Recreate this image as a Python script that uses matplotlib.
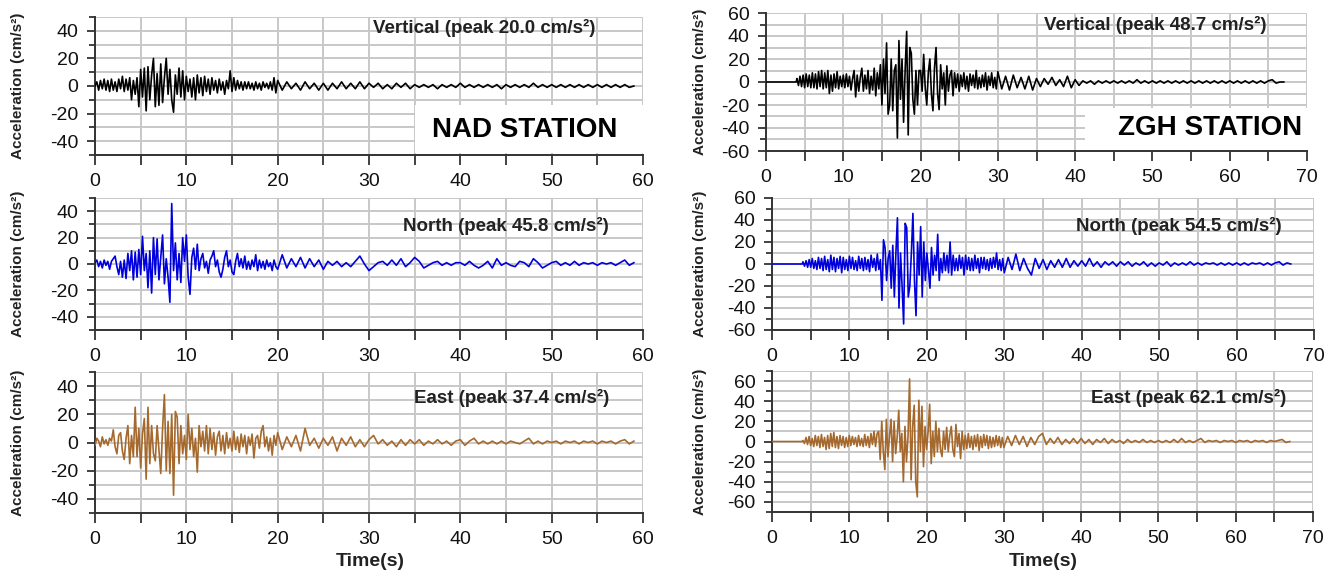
import numpy as np
import matplotlib
matplotlib.use("Agg")
import matplotlib.pyplot as plt
from matplotlib.ticker import MultipleLocator
from matplotlib.patches import Rectangle

plt.rcParams['font.family'] = ['Liberation Sans', 'DejaVu Sans']
plt.rcParams['axes.unicode_minus'] = False

# Sampling steps of the digitised records (s)
BURST_DT = 0.2   # strong-motion part
CODA_DT = 0.5    # coda

# ---------------- NAD station (records start at 0 s) ----------------
nad_v_burst = [0, 3, -3, 4, -2, 5, -3, 4, -4, 5, -3, 3, -4, 5, -2, 7, -4, 5, -3, 6,
               -10, 4, -6, 6, -15, 12, -8, 13, -18, 14, -10, 8, 20, -15, 9, -14, 16, -12, 6, 20,
               -6, 12, -10, -19, 8, -6, 13, -8, 11, -10, 7, -4, 5, -8, 6, -10, 8, -5, 6, -7,
               7, -4, 5, -6, 6, -3, 4, -5, 5, -3, 3, -6, 4, -2, 11, -4, 6, -3, 4, -2,
               3, -3, 3, -2, 3, -2, 2, -3, 3, -2, 2, -3, 3, -1, 2, -2, 3, -3, 6, -5]
nad_v_coda = [4, -3, 3, -2, 2, -3, 3, -2, 2, -3,
              2, -3, 2, -2, 3, -2, 2, -2, 3, -2,
              2, -1, 2, -2, 1, -2, 2, -1, 2, -2,
              1, -1, 1, -1, 1, -2, 1, -1, 1, -1,
              2, -1, 1, -1, 1, -1, 1, -1, 1, -2,
              1, -1, 1, -1, 1, -1, 2, -1, 1, -1,
              1, -1, 1, -1, 1, -1, 1, -1, 1, -1,
              1, -1, 1, -1, 1, -1, 1, -1, 0]

nad_n_burst = [1, 3, -2, 2, -3, 3, -1, 2, -4, 2,
               4, 6, -2, -8, 2, -10, 3, -11, 8, -5,
               10, -12, 9, -10, 11, -8, 21, -5, 8, -18,
               10, -22, 20, -8, 19, -12, 5, 22, -15, 4,
               -10, -29, 45.8, -5, 16, -12, 8, -14, 20, 2,
               22, -10, -23, 5, 12, -4, 15, -5, 4, 8,
               -3, 2, -7, 3, 6, 10, -2, 3, -6, -10,
               -4, 5, 10, -2, 3, -6, -8, 2, 8, -2,
               4, -3, 6, -4, 2, -4, 3, -2, 7, -5,
               3, -3, 2, -4, 3, -2, 1, -5, 3, -2]
nad_n_coda = [-4, 7, -3, 4, -2, 5, -3, 4, -2, 3,
              -4, 2, -1, 2, -2, 1, -2, 2, 6, 0,
              -5, -2, 1, 2, -1, 3, -1, 4, -2, 1,
              5, 2, -3, -1, 1, 2, -1, 1, -1, 1,
              1, -1, 2, -1, -3, -1, 2, -3, 4, -1,
              1, -1, -2, 2, 1, -2, 4, 1, -3, -1,
              1, 2, -1, 1, -1, 2, -1, 1, 0, 1,
              -1, 1, 0, 1, -1, 1, 3, -1, 1]

nad_e_burst = [-2, 3, 1, -3, 4, -1, 2, -2, 3, 1,
               9, -3, -8, 5, 7, -6, -12, 3, 12, -15,
               5, -10, 25, -10, 10, -18, 6, 17, -26, 25,
               -15, 12, -8, -13, 12, -5, -22, 10, 34, -20,
               15, -22, 20, -37.4, 22, 18, -15, 12, -8, 5,
               -12, 20, -5, 10, -10, 3, -21, 12, -3, 8,
               -6, 12, -8, 10, -5, 7, -9, 4, 8, -6,
               5, -8, 7, -4, 3, -6, 8, -5, 4, -7,
               6, -3, 5, -8, 4, -2, 6, -11, 3, 5,
               -4, 8, 12, -3, 4, -6, 3, -9, 5, -2]
nad_e_coda = [7, -5, 4, -3, 5, -6, 10, -2, 3, -4,
              3, -2, 4, -6, 3, -2, 4, -3, 2, -3,
              2, 5, -1, 2, -2, 1, -3, 2, -2, 2,
              -1, 2, -2, 1, -1, 2, -1, 1, -2, 1,
              2, -2, 1, 3, -1, 1, -1, 1, -1, 1,
              -1, 1, 0, -1, 1, 3, -1, 1, -1, 1,
              0, 1, -1, 1, 0, 1, -1, 1, 0, 1,
              -1, 1, 0, 1, -1, 1, 2, -1, 1]

# ---------------- ZGH station (quiet until the P arrival) ----------------
zgh_quiet_end = 3.9
zgh_burst_start = 4.0

zgh_v_burst = [3, -3, 5, -4, 6, -5, 7, -4, 6, -5,
               8, -5, 7, -6, 9, -4, 10, -6, 8, -5,
               10, -10, 6, -8, 7, -5, 9, -6, 5, -4,
               6, -5, 7, -4, 5, -7, 3, 10, -13, 6,
               -8, 4, 12, -8, 6, -6, 10, -10, 5, -7,
               12, -12, 8, -6, 15, -20, 20, -10, 34, -28,
               -20, 20, -25, 10, 15, -48.7, 36, -15, 20, -35,
               10, 44, -46, 30, 25, -15, -28, 10, -20, 10,
               10, -8, 24, -5, -20, 8, 20, -10, -25, 12,
               30, -10, -24, 15, -6, 8, -20, 14, -8, 6,
               10, -12, 8, -5, 7, -8, 6, -4, 8, -6,
               5, -8, 7, -3, 6, -5, 10, -6, 4, -5,
               6, -4, 8, -7, 5, -3, 8, -5, 4, -6]
zgh_v_coda = [9, -6, 5, -7, 6, -5, 4, -6, 5, -7,
              3, -4, 3, -2, 4, -3, 2, -4, 5, -5,
              2, -3, 1, -1, 1, -2, 1, -1, 1, -1,
              1, -1, 1, -1, 1, -1, 2, -1, 1, -1,
              1, -1, 1, -1, 1, -1, 1, -1, 1, -1,
              1, -1, 1, -1, 1, -1, 1, -1, 1, -1,
              1, -1, 1, -1, 1, -1, 1, -1, 1, -1,
              1, 2, -1, 0, 0]

zgh_n_burst = [2, -2, 3, -3, 4, -3, 5, -4, 3, -5,
               6, -4, 5, -6, 7, -5, 4, -7, 8, -5,
               6, -7, 5, -4, 7, -8, 6, -5, 4, -6,
               7, -4, 6, -5, 3, -6, 7, -4, 5, -6,
               6, -5, 4, -7, 8, -3, 5, -6, 9, -5,
               4, -33, 22, 15, -15, 5, 12, -22, 17, -30,
               10, 42, -40, 10, -20, -54.5, 37, 33, -30, -20,
               10, 46, -15, -47, 20, -10, 34, -30, 20, -15,
               10, -5, -22, 15, -10, 8, -6, 27, -15, 5,
               -8, 10, -6, 8, -8, 20, -10, 8, -6, 5,
               -6, 8, -4, 6, -10, 8, -5, 6, -6, 5,
               -6, 8, -4, 5, -8, 6, -4, 6, -5, 4,
               -6, 5, -4, 6, -3, 10, -5, 4, -6, 5]
zgh_n_coda = [-8, 6, -5, 9, -6, 5, -4, -10, 5, -4,
              4, -5, 3, -3, 4, -3, 5, -3, 3, -2,
              3, -2, 5, -2, 2, -3, 2, -1, 2, -2,
              2, -1, 2, -2, 1, -1, 2, -2, 1, -2,
              1, -1, 2, -2, 1, -1, 1, -1, 2, -1,
              1, -1, 1, 0, 1, -1, 1, -1, 1, -1,
              1, -1, 1, -1, 1, 0, 1, -1, 1, -1,
              1, 2, -1, 1, 0]

zgh_e_burst = [1, -2, 4, -3, 5, -4, 3, -5, 6, -4,
               5, -6, 7, -5, 4, -8, 6, -7, 8, -5,
               9, -6, 5, -7, 6, -4, 5, -6, 4, -5,
               6, -4, 5, -3, 4, -5, 6, -4, 3, -5,
               7, -4, 5, -6, 8, -3, 10, -5, 8, 10,
               -18, 20, -10, -28, 22, -15, 5, 22, -20, 20,
               -12, 5, 31, -10, 8, -40, 15, -20, 5, 62.1,
               -38, 15, 36, -40, -55, 41, -10, 35, -25, 15,
               -8, 10, 37, -22, 10, -15, 20, -10, 13, -8,
               -15, 10, -8, 14, -10, 6, 15, -8, -15, 17,
               -5, 8, -17, 10, -8, 6, -7, 8, -6, 5,
               -8, 6, -5, 7, -9, 5, -6, 7, -4, 6,
               -7, 5, -6, 4, -5, 6, -4, 5, -6, 4]
zgh_e_coda = [-6, 5, -4, 6, -3, 5, -5, 4, -3, 5,
              8, -3, 3, -2, 4, -3, 2, -2, 3, -2,
              3, -2, 2, -3, 2, -1, 3, -2, 2, -1,
              1, -2, 2, -1, 1, -1, 2, -1, 1, -1,
              1, -1, 1, -1, 2, -1, 3, -1, 1, -1,
              1, 3, -1, 1, 0, 1, -1, 1, 0, 1,
              -1, 1, 0, 1, -1, 1, 0, 1, -1, 1,
              0, 1, 2, -1, 0]

# Panel captions
component_labels = ["Vertical (peak 20.0 cm/s\u00b2)", "North (peak 45.8 cm/s\u00b2)",
                    "East (peak 37.4 cm/s\u00b2)", "Vertical (peak 48.7 cm/s\u00b2)",
                    "North (peak 54.5 cm/s\u00b2)", "East (peak 62.1 cm/s\u00b2)"]
station_names = ["NAD STATION", "ZGH STATION"]
y_label = "Acceleration (cm/s\u00b2)"
x_label = "Time(s)"

COLORS = {"V": "black", "N": "#0000dd", "E": "#a5692e"}


def build_trace(burst, coda, start=0.0, quiet_end=None):
    tb = start + BURST_DT * np.arange(len(burst))
    tc = start + BURST_DT * len(burst) + CODA_DT * np.arange(len(coda))
    t = np.concatenate([tb, tc])
    a = np.concatenate([np.asarray(burst, float), np.asarray(coda, float)])
    if quiet_end is not None:
        t = np.concatenate([[0.0, quiet_end], t])
        a = np.concatenate([[0.0, 0.0], a])
    return t, a


W, H = 1333, 570
fig = plt.figure(figsize=(W / 100, H / 100), dpi=100)


def rect(x0, x1, y0, y1):
    return [x0 / W, 1 - y1 / H, (x1 - x0) / W, (y1 - y0) / H]


panels = [
    # axes rectangle (px), trace, colour, ylim, xlim, caption, caption pos
    dict(r=rect(95, 643, 17, 155), tr=build_trace(nad_v_burst, nad_v_coda), c=COLORS["V"],
         ylim=(-50, 50), xlim=(0, 60), lab=component_labels[0], lp=(0.71, 0.92)),
    dict(r=rect(95, 643, 198, 330), tr=build_trace(nad_n_burst, nad_n_coda), c=COLORS["N"],
         ylim=(-50, 50), xlim=(0, 60), lab=component_labels[1], lp=(0.75, 0.79)),
    dict(r=rect(95, 643, 372, 513), tr=build_trace(nad_e_burst, nad_e_coda), c=COLORS["E"],
         ylim=(-50, 50), xlim=(0, 60), lab=component_labels[2], lp=(0.76, 0.815)),
    dict(r=rect(766, 1307, 13, 151),
         tr=build_trace(zgh_v_burst, zgh_v_coda, zgh_burst_start, zgh_quiet_end), c=COLORS["V"],
         ylim=(-60, 60), xlim=(0, 70), lab=component_labels[3], lp=(0.72, 0.915)),
    dict(r=rect(772, 1314, 198, 330),
         tr=build_trace(zgh_n_burst, zgh_n_coda, zgh_burst_start, zgh_quiet_end), c=COLORS["N"],
         ylim=(-60, 60), xlim=(0, 70), lab=component_labels[4], lp=(0.75, 0.79)),
    dict(r=rect(772, 1313, 371, 512),
         tr=build_trace(zgh_e_burst, zgh_e_coda, zgh_burst_start, zgh_quiet_end), c=COLORS["E"],
         ylim=(-70, 70), xlim=(0, 70), lab=component_labels[5], lp=(0.77, 0.81)),
]

axes = []
for p in panels:
    ax = fig.add_axes(p["r"])
    t, a = p["tr"]
    ax.plot(t, a, color=p["c"], lw=1.2, zorder=3)
    ax.set_xlim(*p["xlim"])
    ax.set_ylim(*p["ylim"])
    ax.xaxis.set_major_locator(MultipleLocator(10))
    ax.xaxis.set_minor_locator(MultipleLocator(5))
    ax.yaxis.set_major_locator(MultipleLocator(20))
    ax.yaxis.set_minor_locator(MultipleLocator(10))
    ax.set_axisbelow(True)
    ax.grid(True, which="both", color="#c8c8c8", lw=1.4)
    for s in ("top", "right"):
        ax.spines[s].set_visible(False)
    for s in ("left", "bottom"):
        ax.spines[s].set_color("#333333")
        ax.spines[s].set_linewidth(1.4)
    ax.tick_params(axis="both", which="both", direction="out", color="#333333", width=1.3,
                   labelsize=14, labelcolor="#111111")
    ax.tick_params(axis="x", which="both", length=7, pad=6)
    ax.tick_params(axis="y", which="major", length=6, pad=6)
    ax.tick_params(axis="y", which="minor", length=4)
    ax.text(p["lp"][0], p["lp"][1], p["lab"], transform=ax.transAxes, ha="center",
            va="center", fontsize=13.5, fontweight="bold", color="#222222")
    axes.append(ax)

# Station name boxes
for ax, name, box, pos in [(axes[0], station_names[0], (0.584, 0.014, 0.416, 0.35), (0.785, 0.18)),
                           (axes[3], station_names[1], (0.59, 0.01, 0.41, 0.30), (0.82, 0.165))]:
    ax.add_patch(Rectangle(box[:2], box[2], box[3], transform=ax.transAxes,
                           facecolor="white", edgecolor="none", zorder=2))
    ax.text(pos[0], pos[1], name, transform=ax.transAxes, ha="center", va="center",
            fontsize=20, fontweight="bold", color="black", zorder=4)

# Axis titles
for ax in axes:
    pos = ax.get_position()
    xpx = 18 if pos.x0 < 0.5 else 700
    fig.text(xpx / W, pos.y0 + pos.height / 2, y_label, rotation=90, ha="center",
             va="center", fontsize=11, fontweight="bold", color="#222222")

fig.text(370 / W, 1 - 562 / H, x_label, ha="center", va="center", fontsize=14,
         fontweight="bold", color="#222222")
fig.text(1043 / W, 1 - 562 / H, x_label, ha="center", va="center", fontsize=14,
         fontweight="bold", color="#222222")

fig.savefig("out.png", dpi=100)
